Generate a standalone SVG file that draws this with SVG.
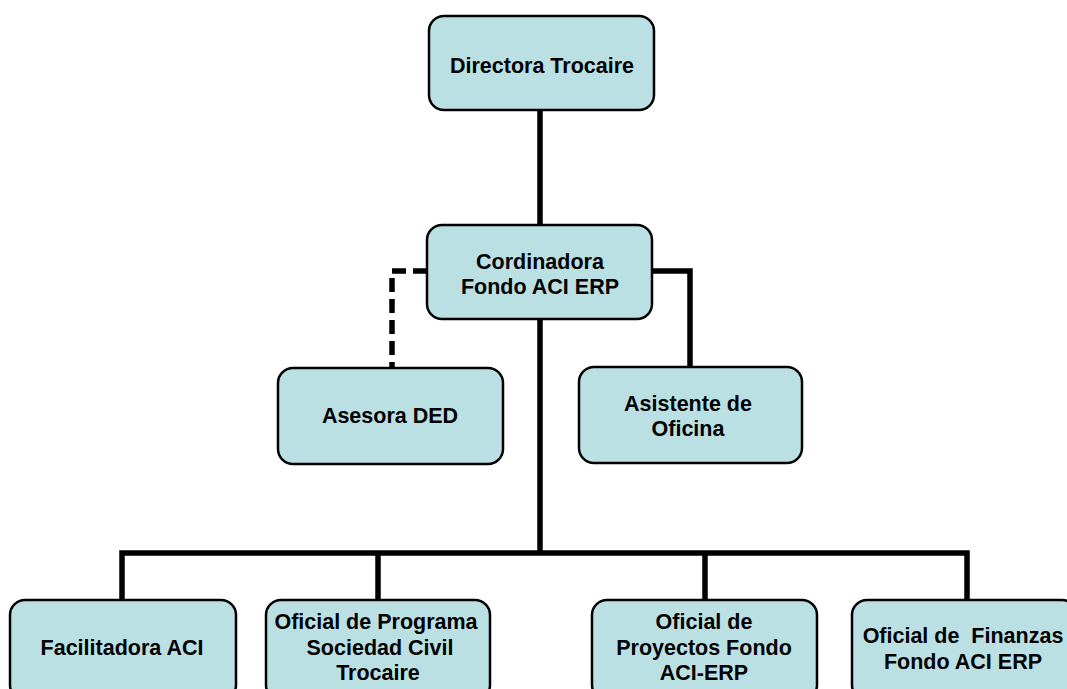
<svg xmlns="http://www.w3.org/2000/svg" width="1067" height="689" viewBox="0 0 1067 689">
<style>
.box{fill:#BBE0E3;stroke:#000;stroke-width:2.5}
.t{font-family:"Liberation Sans",Arial,sans-serif;font-weight:bold;font-size:21.5px;text-anchor:middle;fill:#000}
.c{fill:none;stroke:#000;stroke-width:5.5}
.d{fill:none;stroke:#000;stroke-width:5.5;stroke-dasharray:14,7}
</style>
<rect width="1067" height="689" fill="#fff"/>
<g id="connectors">
<line class="c" x1="540" y1="110" x2="540" y2="225"/>
<line class="c" x1="540" y1="319" x2="540" y2="553"/>
<polyline class="d" points="427,271 392,271 392,368"/>
<polyline class="c" points="652,271 690,271 690,367"/>
<polyline class="c" points="122,600 122,553 967,553 967,600"/>
<line class="c" x1="378" y1="553" x2="378" y2="600"/>
<line class="c" x1="705" y1="553" x2="705" y2="600"/>
</g>
<g id="directora">
<rect class="box" x="429" y="16" width="225" height="94" rx="15"/>
<text class="t" x="542" y="73">Directora Trocaire</text>
</g>
<g id="cordinadora">
<rect class="box" x="427" y="225" width="225" height="94" rx="15"/>
<text class="t" x="540" y="269">Cordinadora</text>
<text class="t" x="540" y="294">Fondo ACI ERP</text>
</g>
<g id="asesora">
<rect class="box" x="278" y="368" width="225" height="96" rx="15"/>
<text class="t" x="390" y="423">Asesora DED</text>
</g>
<g id="asistente">
<rect class="box" x="579" y="367" width="223" height="96" rx="15"/>
<text class="t" x="688" y="411">Asistente de</text>
<text class="t" x="688" y="436">Oficina</text>
</g>
<g id="facilitadora">
<rect class="box" x="10" y="600" width="226" height="100" rx="15"/>
<text class="t" x="122" y="655">Facilitadora ACI</text>
</g>
<g id="programa">
<rect class="box" x="266" y="600" width="224" height="100" rx="15"/>
<text class="t" x="376" y="629">Oficial de Programa</text>
<text class="t" x="380" y="655">Sociedad Civil</text>
<text class="t" x="378" y="680">Trocaire</text>
</g>
<g id="proyectos">
<rect class="box" x="592" y="600" width="225" height="100" rx="15"/>
<text class="t" x="704" y="629">Oficial de</text>
<text class="t" x="704" y="655">Proyectos Fondo</text>
<text class="t" x="704" y="680">ACI-ERP</text>
</g>
<g id="finanzas">
<rect class="box" x="852" y="600" width="225" height="100" rx="15"/>
<text class="t" x="963" y="643" xml:space="preserve">Oficial de  Finanzas</text>
<text class="t" x="963" y="669">Fondo ACI ERP</text>
</g>
</svg>
